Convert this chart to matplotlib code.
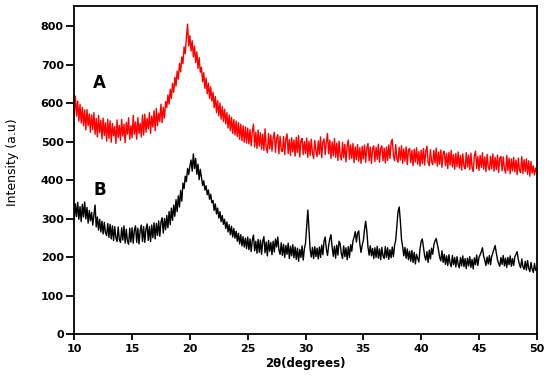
import numpy as np
import matplotlib
matplotlib.use("Agg")
import matplotlib.pyplot as plt

plt.rcParams['font.family'] = ['DejaVu Sans']

# 2-theta scan positions (degrees), 0.1 step
two_theta = np.round(np.linspace(10, 50, 401), 1)

# sample A (red)
intensity_a = [
    572, 618, 566, 605, 553, 597, 548, 589, 541, 582,
    530, 583, 541, 572, 524, 569, 531, 575, 519, 560,
    512, 568, 523, 555, 507, 561, 516, 549, 501, 558,
    508, 554, 498, 547, 515, 539, 495, 556, 510, 542,
    503, 558, 514, 545, 497, 550, 519, 562, 506, 541,
    510, 568, 519, 551, 506, 562, 521, 547, 512, 569,
    517, 571, 524, 560, 533, 575, 521, 566, 538, 580,
    528, 586, 541, 574, 552, 597, 549, 589, 561, 604,
    588, 621, 597, 636, 612, 651, 628, 667, 644, 683,
    662, 703, 681, 720, 702, 746, 728, 770, 805, 748,
    775, 735, 762, 720, 748, 705, 733, 690, 718, 680,
    693, 655, 679, 638, 665, 624, 652, 612, 642, 605,
    628, 588, 617, 575, 606, 567, 600, 558, 591, 552,
    584, 546, 575, 535, 569, 528, 563, 521, 557, 517,
    553, 513, 549, 506, 545, 502, 541, 498, 538, 496,
    535, 494, 531, 489, 527, 545, 486, 524, 482, 530,
    488, 523, 480, 519, 477, 533, 484, 471, 521, 481,
    517, 475, 510, 524, 472, 508, 518, 468, 514, 478,
    474, 513, 466, 507, 520, 469, 505, 464, 510, 473,
    504, 462, 511, 471, 516, 460, 502, 508, 466, 500,
    469, 509, 459, 501, 464, 506, 470, 456, 503, 474,
    461, 502, 467, 512, 458, 499, 507, 466, 498, 521,
    468, 504, 456, 499, 463, 508, 459, 496, 451, 501,
    465, 452, 498, 458, 493, 447, 488, 504, 454, 491,
    456, 495, 445, 486, 453, 492, 449, 484, 443, 488,
    455, 491, 446, 483, 495, 450, 486, 443, 481, 489,
    448, 485, 454, 493, 446, 482, 489, 450, 483, 444,
    486, 451, 491, 456, 498, 506, 463, 450, 492, 455,
    446, 485, 452, 489, 443, 481, 449, 486, 440, 478,
    482, 445, 477, 437, 480, 447, 484, 441, 474, 436,
    478, 443, 482, 439, 475, 488, 446, 437, 479, 448,
    440, 477, 444, 483, 436, 473, 441, 478, 433, 470,
    475, 437, 469, 430, 472, 439, 477, 434, 466, 428,
    469, 435, 473, 431, 464, 426, 468, 436, 429, 471,
    434, 465, 427, 470, 432, 422, 463, 475, 430, 461,
    425, 464, 433, 471, 428, 460, 422, 467, 434, 426,
    462, 429, 468, 423, 459, 427, 465, 420, 457, 461,
    424, 460, 429, 418, 464, 425, 457, 416, 455, 424,
    459, 421, 452, 414, 457, 426, 419, 461, 417, 453,
    422, 455, 415, 450, 410, 448, 418, 437, 413, 431,
    418,
]

# sample B (black)
intensity_b = [
    296, 338, 305, 342, 298, 331, 292, 337, 304, 343,
    299, 329, 288, 321, 294, 316, 283, 309, 335, 278,
    304, 270, 298, 265, 293, 260, 290, 263, 256, 287,
    251, 285, 247, 281, 243, 279, 250, 240, 278, 245,
    238, 276, 244, 281, 236, 272, 241, 233, 275, 239,
    276, 236, 270, 281, 238, 275, 234, 268, 283, 240,
    279, 238, 272, 286, 243, 279, 240, 283, 250, 289,
    247, 287, 256, 294, 254, 291, 302, 262, 300, 271,
    308, 276, 318, 284, 327, 295, 335, 306, 349, 318,
    359, 330, 373, 345, 392, 378, 410, 396, 430, 414,
    436, 452, 423, 468, 430, 456, 415, 441, 401, 428,
    407, 386, 398, 374, 385, 362, 374, 350, 363, 341,
    347, 321, 338, 312, 327, 301, 318, 292, 308, 285,
    298, 274, 291, 265, 284, 258, 280, 252, 274, 249,
    267, 241, 262, 234, 258, 229, 253, 226, 249, 222,
    252, 219, 247, 214, 244, 257, 216, 241, 210, 246,
    212, 244, 207, 241, 253, 211, 239, 203, 243, 215,
    238, 206, 241, 213, 247, 226, 252, 218, 207, 237,
    204, 233, 199, 230, 207, 236, 196, 228, 203, 232,
    198, 226, 194, 223, 189, 220, 199, 229, 192, 221,
    236, 279, 322, 270, 219, 200, 225, 196, 227, 201,
    223, 195, 226, 199, 231, 206, 241, 252, 221, 204,
    230, 247, 258, 226, 202, 228, 197, 231, 205, 241,
    234, 208, 196, 229, 201, 224, 193, 227, 199, 232,
    215, 241, 252, 266, 239, 262, 268, 233, 212, 231,
    243, 271, 293, 268, 226, 205, 229, 203, 222, 196,
    224, 199, 228, 197, 221, 193, 225, 203, 196, 227,
    199, 224, 194, 219, 198, 226, 201, 230, 244, 281,
    318, 330, 294, 246, 227, 203, 225, 197, 221, 193,
    215, 189, 217, 186, 212, 182, 207, 196, 187, 221,
    241, 247, 224, 203, 192, 214, 186, 218, 195, 223,
    207, 232, 242, 248, 233, 218, 199, 190, 216, 186,
    207, 181, 203, 178, 206, 184, 175, 204, 180, 199,
    174, 201, 181, 172, 199, 177, 203, 175, 196, 170,
    197, 177, 201, 173, 194, 169, 198, 180, 205, 178,
    199, 206, 214, 224, 203, 192, 178, 200, 182, 204,
    180, 202, 211, 221, 230, 210, 193, 183, 176, 199,
    181, 204, 177, 197, 173, 199, 180, 203, 176, 196,
    178, 201, 207, 214, 194, 180, 172, 195, 175, 168,
    189, 166, 191, 171, 162, 186, 168, 160, 183, 165,
    170,
]

fig = plt.figure(figsize=(5.5, 3.77), dpi=100)
ax = fig.add_axes([0.135, 0.114, 0.841, 0.870])

ax.plot(two_theta, intensity_a, color='#ff0000', lw=1.0)
ax.plot(two_theta, intensity_b, color='black', lw=1.0)

ax.text(12.2, 652, 'A', fontsize=12, fontweight='bold', ha='center', va='center')
ax.text(12.2, 374, 'B', fontsize=12, fontweight='bold', ha='center', va='center')

ax.set_xlim(10, 50)
ax.set_ylim(0, 852)
ax.set_xticks(range(10, 51, 5))
ax.set_yticks(range(0, 801, 100))

for lab in ax.get_xticklabels() + ax.get_yticklabels():
    lab.set_fontweight('bold')
ax.tick_params(direction='out', width=1.3, labelsize=8)
ax.tick_params(axis='x', length=4, pad=3.5)
ax.tick_params(axis='y', length=5.5, pad=2)
for s in ax.spines.values():
    s.set_linewidth(1.3)

ax.set_xlabel('2θ(degrees)', fontsize=8.5, fontweight='bold', labelpad=1.5)
ax.set_ylabel('Intensity (a.u)', fontsize=9)
ax.yaxis.set_label_coords(-0.119, 0.524)

fig.savefig('out.png', dpi=100)
